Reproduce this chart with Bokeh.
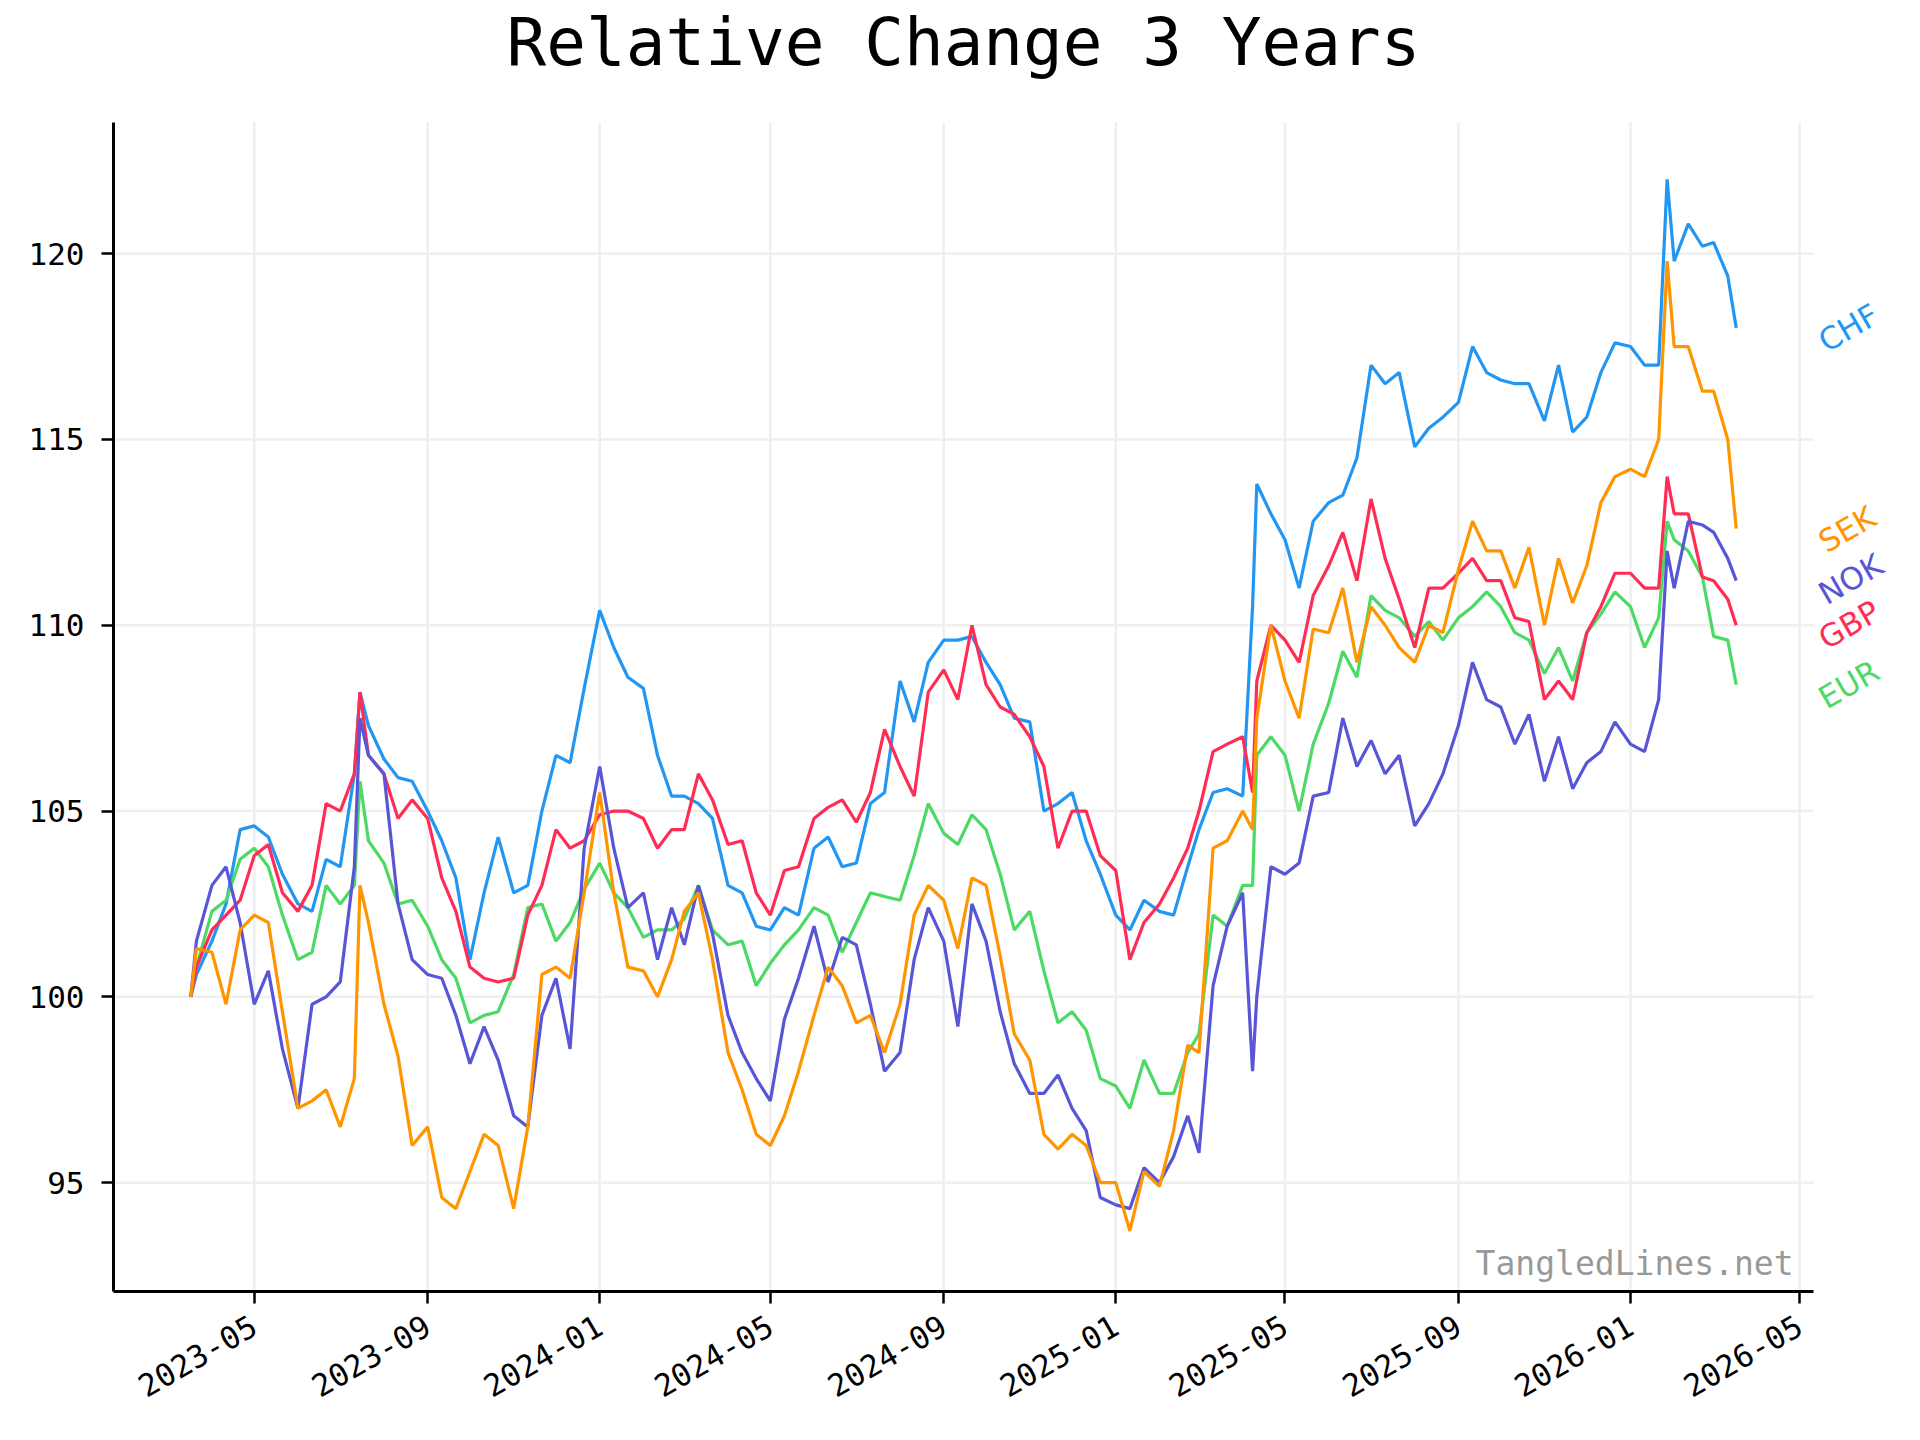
import math
import pandas as pd
from bokeh.plotting import figure
from bokeh.models import Range1d, FixedTicker, DatetimeTickFormatter, Label
from bokeh.embed import file_html
from bokeh.resources import INLINE

dates = [
    "2023-03-17", "2023-03-21", "2023-04-01", "2023-04-11", "2023-04-21", "2023-05-01", "2023-05-11", "2023-05-21",
    "2023-06-01", "2023-06-11", "2023-06-21", "2023-07-01", "2023-07-11", "2023-07-15", "2023-07-21", "2023-08-01",
    "2023-08-11", "2023-08-21", "2023-09-01", "2023-09-11", "2023-09-21", "2023-10-01", "2023-10-11", "2023-10-21",
    "2023-11-01", "2023-11-11", "2023-11-21", "2023-12-01", "2023-12-11", "2023-12-21",
    "2024-01-01", "2024-01-11", "2024-01-21", "2024-02-01", "2024-02-11", "2024-02-21", "2024-03-01", "2024-03-11",
    "2024-03-21", "2024-04-01", "2024-04-11", "2024-04-21", "2024-05-01", "2024-05-11", "2024-05-21", "2024-06-01",
    "2024-06-11", "2024-06-21", "2024-07-01", "2024-07-11", "2024-07-21", "2024-08-01", "2024-08-11", "2024-08-21",
    "2024-09-01", "2024-09-11", "2024-09-21", "2024-10-01", "2024-10-11", "2024-10-21", "2024-11-01", "2024-11-11",
    "2024-11-21", "2024-12-01", "2024-12-11", "2024-12-21",
    "2025-01-01", "2025-01-11", "2025-01-21", "2025-02-01", "2025-02-11", "2025-02-21", "2025-03-01", "2025-03-11",
    "2025-03-21", "2025-04-01", "2025-04-08", "2025-04-11", "2025-04-21", "2025-05-01", "2025-05-11", "2025-05-21",
    "2025-06-01", "2025-06-11", "2025-06-21", "2025-07-01", "2025-07-11", "2025-07-21", "2025-08-01", "2025-08-11",
    "2025-08-21", "2025-09-01", "2025-09-11", "2025-09-21", "2025-10-01", "2025-10-11", "2025-10-21", "2025-11-01",
    "2025-11-11", "2025-11-21", "2025-12-01", "2025-12-11", "2025-12-21",
    "2026-01-01", "2026-01-11", "2026-01-21", "2026-01-27", "2026-02-01", "2026-02-11", "2026-02-21", "2026-03-01",
    "2026-03-11", "2026-03-17",
]

chf = [
    100.0, 100.6, 101.5, 102.5, 104.5, 104.6, 104.3, 103.3, 102.5, 102.3, 103.7, 103.5, 106.0, 108.2, 107.3,
    106.4, 105.9, 105.8, 105.0, 104.2, 103.2, 101.0, 102.8, 104.3, 102.8, 103.0, 105.0, 106.5, 106.3, 108.3,
    110.4, 109.4, 108.6, 108.3, 106.5, 105.4, 105.4, 105.2, 104.8, 103.0, 102.8, 101.9, 101.8, 102.4, 102.2,
    104.0, 104.3, 103.5, 103.6, 105.2, 105.5, 108.5, 107.4, 109.0, 109.6, 109.6, 109.7, 109.0, 108.4, 107.5,
    107.4, 105.0, 105.2, 105.5, 104.2, 103.3,
    102.2, 101.8, 102.6, 102.3, 102.2, 103.5, 104.5, 105.5, 105.6, 105.4, 110.5, 113.8, 113.0, 112.3, 111.0,
    112.8, 113.3, 113.5, 114.5, 117.0, 116.5, 116.8, 114.8, 115.3, 115.6, 116.0, 117.5, 116.8, 116.6, 116.5,
    116.5, 115.5, 117.0, 115.2, 115.6, 116.8, 117.6,
    117.5, 117.0, 117.0, 122.0, 119.8, 120.8, 120.2, 120.3, 119.4, 118.0,
]

eur = [
    100.0, 100.8, 102.3, 102.6, 103.7, 104.0, 103.5, 102.2, 101.0, 101.2, 103.0, 102.5, 103.0, 105.8, 104.2,
    103.6, 102.5, 102.6, 101.9, 101.0, 100.5, 99.3, 99.5, 99.6, 100.6, 102.4, 102.5, 101.5, 102.0, 102.9,
    103.6, 102.8, 102.4, 101.6, 101.8, 101.8, 102.1, 103.0, 101.8, 101.4, 101.5, 100.3, 100.9, 101.4, 101.8,
    102.4, 102.2, 101.2, 102.0, 102.8, 102.7, 102.6, 103.8, 105.2, 104.4, 104.1, 104.9, 104.5, 103.3, 101.8,
    102.3, 100.7, 99.3, 99.6, 99.1, 97.8,
    97.6, 97.0, 98.3, 97.4, 97.4, 98.5, 99.0, 102.2, 101.9, 103.0, 103.0, 106.5, 107.0, 106.5, 105.0,
    106.8, 107.9, 109.3, 108.6, 110.8, 110.4, 110.2, 109.7, 110.1, 109.6, 110.2, 110.5, 110.9, 110.5, 109.8,
    109.6, 108.7, 109.4, 108.5, 109.8, 110.3, 110.9,
    110.5, 109.4, 110.2, 112.8, 112.3, 112.0, 111.3, 109.7, 109.6, 108.4,
]

gbp = [
    100.0, 100.8, 101.8, 102.2, 102.6, 103.8, 104.1, 102.8, 102.3, 103.0, 105.2, 105.0, 106.0, 108.2, 106.5,
    106.0, 104.8, 105.3, 104.8, 103.2, 102.3, 100.8, 100.5, 100.4, 100.5, 102.2, 103.0, 104.5, 104.0, 104.2,
    104.9, 105.0, 105.0, 104.8, 104.0, 104.5, 104.5, 106.0, 105.3, 104.1, 104.2, 102.8, 102.2, 103.4, 103.5,
    104.8, 105.1, 105.3, 104.7, 105.5, 107.2, 106.2, 105.4, 108.2, 108.8, 108.0, 110.0, 108.4, 107.8, 107.6,
    107.0, 106.2, 104.0, 105.0, 105.0, 103.8,
    103.4, 101.0, 102.0, 102.5, 103.2, 104.0, 105.0, 106.6, 106.8, 107.0, 105.5, 108.5, 110.0, 109.6, 109.0,
    110.8, 111.6, 112.5, 111.2, 113.4, 111.8, 110.7, 109.4, 111.0, 111.0, 111.4, 111.8, 111.2, 111.2, 110.2,
    110.1, 108.0, 108.5, 108.0, 109.8, 110.5, 111.4,
    111.4, 111.0, 111.0, 114.0, 113.0, 113.0, 111.3, 111.2, 110.7, 110.0,
]

nok = [
    100.0, 101.5, 103.0, 103.5, 102.0, 99.8, 100.7, 98.6, 97.0, 99.8, 100.0, 100.4, 103.5, 107.5, 106.5,
    106.0, 102.5, 101.0, 100.6, 100.5, 99.5, 98.2, 99.2, 98.3, 96.8, 96.5, 99.5, 100.5, 98.6, 104.0,
    106.2, 104.0, 102.4, 102.8, 101.0, 102.4, 101.4, 103.0, 101.7, 99.5, 98.5, 97.8, 97.2, 99.4, 100.5,
    101.9, 100.4, 101.6, 101.4, 99.8, 98.0, 98.5, 101.0, 102.4, 101.5, 99.2, 102.5, 101.5, 99.6, 98.2,
    97.4, 97.4, 97.9, 97.0, 96.4, 94.6,
    94.4, 94.3, 95.4, 95.0, 95.7, 96.8, 95.8, 100.3, 101.9, 102.8, 98.0, 100.0, 103.5, 103.3, 103.6,
    105.4, 105.5, 107.5, 106.2, 106.9, 106.0, 106.5, 104.6, 105.2, 106.0, 107.3, 109.0, 108.0, 107.8, 106.8,
    107.6, 105.8, 107.0, 105.6, 106.3, 106.6, 107.4,
    106.8, 106.6, 108.0, 112.0, 111.0, 112.8, 112.7, 112.5, 111.8, 111.2,
]

sek = [
    100.0, 101.3, 101.2, 99.8, 101.8, 102.2, 102.0, 99.6, 97.0, 97.2, 97.5, 96.5, 97.8, 103.0, 102.0,
    99.8, 98.4, 96.0, 96.5, 94.6, 94.3, 95.3, 96.3, 96.0, 94.3, 96.5, 100.6, 100.8, 100.5, 102.8,
    105.5, 102.8, 100.8, 100.7, 100.0, 101.0, 102.3, 102.8, 101.0, 98.5, 97.5, 96.3, 96.0, 96.8, 98.0,
    99.5, 100.8, 100.3, 99.3, 99.5, 98.5, 99.8, 102.2, 103.0, 102.6, 101.3, 103.2, 103.0, 101.1, 99.0,
    98.3, 96.3, 95.9, 96.3, 96.0, 95.0,
    95.0, 93.7, 95.3, 94.9, 96.4, 98.7, 98.5, 104.0, 104.2, 105.0, 104.5, 107.5, 110.0, 108.5, 107.5,
    109.9, 109.8, 111.0, 109.0, 110.5, 110.0, 109.4, 109.0, 110.0, 109.8, 111.5, 112.8, 112.0, 112.0, 111.0,
    112.1, 110.0, 111.8, 110.6, 111.6, 113.3, 114.0,
    114.2, 114.0, 115.0, 119.8, 117.5, 117.5, 116.3, 116.3, 115.0, 112.6,
]

tick_dates = ["2023-05-01", "2023-09-01", "2024-01-01", "2024-05-01", "2024-09-01", "2025-01-01",
              "2025-05-01", "2025-09-01", "2026-01-01", "2026-05-01"]
y_ticks = [95, 100, 105, 110, 115, 120]
title_text = "Relative Change 3 Years"
watermark = "TangledLines.net"

series = [
    ("CHF", chf, "#2196F3"),
    ("EUR", eur, "#4CD964"),
    ("GBP", gbp, "#FF2D55"),
    ("NOK", nok, "#5856D6"),
    ("SEK", sek, "#FF9500"),
]

x = pd.to_datetime(dates)


def ms(ts):
    return pd.Timestamp(ts).value / 1e6


DAY = 86400000.0
# axes limits (5% margins around the data, like the original)
x_start = ms(dates[0]) - 54.8 * DAY
x_end = ms(dates[-1]) + 54.8 * DAY
y_start, y_end = 92.07, 123.53

# layout: the axes box is AX_W x AX_H pixels; the plotting frame is larger (top/right)
# so that the title and the end labels can live inside it without being clipped.
W, H = 1904, 1424
B_LEFT, B_BOTTOM, B_TOP, B_RIGHT = 113, 133, 4, 4
AX_W, AX_H = 1700, 1169
FW = W - B_LEFT - B_RIGHT
FH = H - B_TOP - B_BOTTOM
x_range_end = x_start + (x_end - x_start) * FW / AX_W
y_range_end = y_start + (y_end - y_start) * FH / AX_H

p = figure(width=W, height=H, x_axis_type="datetime", output_backend="svg", toolbar_location=None,
           x_range=Range1d(x_start, x_range_end), y_range=Range1d(y_start, y_range_end),
           min_border_left=B_LEFT, min_border_right=B_RIGHT, min_border_top=B_TOP,
           min_border_bottom=B_BOTTOM)

p.outline_line_color = None
p.background_fill_color = "white"
p.border_fill_color = "white"
p.grid.visible = False

tick_ms = [ms(d) for d in tick_dates]
p.xaxis.ticker = FixedTicker(ticks=tick_ms)
p.yaxis.ticker = FixedTicker(ticks=y_ticks)
p.xaxis.bounds = (x_start, x_end)
p.yaxis.bounds = (y_start, y_end)
p.xaxis.formatter = DatetimeTickFormatter(
    milliseconds="%Y-%m", seconds="%Y-%m", minsec="%Y-%m", minutes="%Y-%m", hourmin="%Y-%m",
    hours="%Y-%m", days="%Y-%m", months="%Y-%m", years="%Y-%m")
p.xaxis.major_label_orientation = math.pi / 6

for ax in (p.xaxis, p.yaxis):
    ax.axis_line_width = 3
    ax.axis_line_color = "black"
    ax.major_tick_out = 12
    ax.major_tick_in = 0
    ax.major_tick_line_width = 2.5
    ax.major_tick_line_color = "black"
    ax.minor_tick_line_color = None
    ax.major_label_text_font = "DejaVu Sans Mono"
    ax.major_label_text_font_size = "31px"
    ax.major_label_text_color = "black"
p.yaxis.major_label_standoff = 17
p.xaxis.major_label_standoff = 20

# grid lines limited to the axes box
grid_color = "#efefef"
p.segment(x0=tick_ms, x1=tick_ms, y0=[y_start] * len(tick_ms), y1=[y_end] * len(tick_ms),
          line_color=grid_color, line_width=2.5)
p.segment(x0=[x_start] * len(y_ticks), x1=[x_end] * len(y_ticks), y0=y_ticks, y1=y_ticks,
          line_color=grid_color, line_width=2.5)

for name, vals, color in series:
    p.line(x, vals, line_color=color, line_width=3.2)

for name, vals, color in series:
    p.add_layout(Label(x=ms(dates[-1]), y=vals[-1], x_offset=94, y_offset=-31, angle=math.radians(30),
                       text=name, text_color=color, text_font="DejaVu Sans", text_font_size="31px",
                       text_align="left", text_baseline="bottom"))

p.add_layout(Label(x=(x_start + x_end) / 2, y=y_end, y_offset=80, text=title_text,
                   text_align="center", text_baseline="alphabetic", text_font="DejaVu Sans Mono",
                   text_font_size="66px", text_color="black"))

p.add_layout(Label(x=x_end, y=y_start, x_offset=-20, y_offset=28, text=watermark,
                   text_align="right", text_baseline="alphabetic", text_font="DejaVu Sans Mono",
                   text_font_size="33px", text_color="#999999"))

open("out.html", "w").write(file_html(p, INLINE))
